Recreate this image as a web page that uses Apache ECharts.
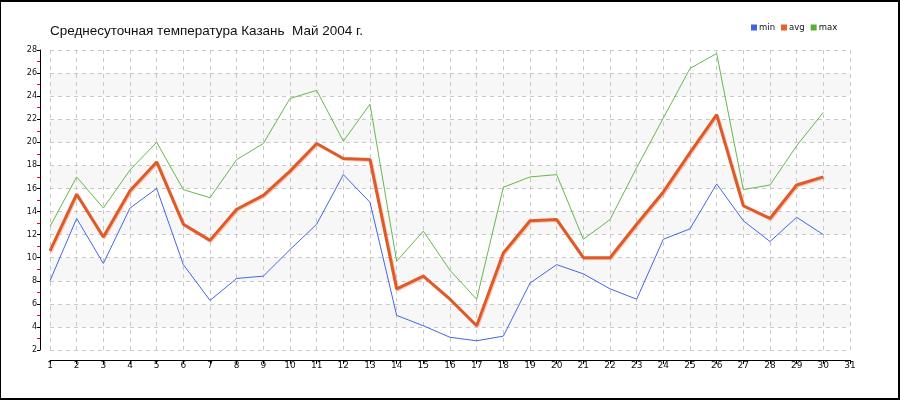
<!DOCTYPE html>
<html>
<head>
<meta charset="utf-8">
<script src="https://cdn.jsdelivr.net/npm/echarts@6/dist/echarts.min.js"></script>
<style>
html,body{margin:0;padding:0;background:#fff;}
#frame{position:absolute;left:0;top:0;width:900px;height:400px;box-sizing:border-box;border-style:solid;border-color:#000;border-width:2px 2px 2px 1px;}
#chart{position:absolute;left:0;top:0;width:900px;height:400px;}
</style>
</head>
<body>
<div id="chart"></div>
<div id="frame"></div>
<script>
const days = [1,2,3,4,5,6,7,8,9,10,11,12,13,14,15,16,17,18,19,20,21,22,23,24,25,26,27,28,29,30];
const minTemp = [8.0,13.4,9.5,14.3,16.0,9.4,6.3,8.2,8.4,10.7,12.9,17.2,14.8,5.0,4.1,3.1,2.8,3.2,7.8,9.4,8.6,7.3,6.4,11.6,12.5,16.4,13.2,11.4,13.5,12.0];
const avgTemp = [10.6,15.5,11.8,15.8,18.3,12.9,11.5,14.2,15.4,17.5,19.9,18.6,18.5,7.3,8.4,6.4,4.1,10.4,13.2,13.3,10.0,10.0,12.9,15.7,19.1,22.4,14.5,13.4,16.3,17.0];
const maxTemp = [12.7,17.0,14.3,17.6,20.0,15.9,15.2,18.5,19.9,23.8,24.5,20.1,23.3,9.7,12.3,8.9,6.4,16.1,17.0,17.2,11.6,13.3,17.8,22.1,26.4,27.7,15.9,16.3,19.7,22.6];
const seriesNames = ['min','avg','max'];
const titleText = 'Среднесуточная температура Казань  Май 2004 г.';

const pairs = arr => days.map((d,i)=>[d,arr[i]]);
const chart = echarts.init(document.getElementById('chart'), null, {renderer:'canvas'});
const axisFont = 'DejaVu Sans';
chart.setOption({
  animation:false,
  backgroundColor:'#fff',
  title:{text:titleText,left:45,top:19,textStyle:{fontFamily:'Liberation Sans',fontSize:13.5,fontWeight:'normal',color:'#111'}},
  legend:{data:seriesNames,left:746,top:18,icon:'rect',itemWidth:6,itemHeight:6,itemGap:6,
    textStyle:{fontFamily:axisFont,fontSize:8.5,color:'#111',padding:[0,0,0,-3]}},
  grid:{left:50,right:50,top:50,bottom:50,containLabel:false},
  xAxis:{type:'value',min:1,max:31,interval:1,offset:10,
    axisLine:{show:true,lineStyle:{color:'#000',width:1}},
    axisTick:{show:true,length:4,lineStyle:{color:'#000'}},
    axisLabel:{margin:1,fontFamily:axisFont,fontSize:9,color:'#111'},
    splitLine:{show:true,lineStyle:{color:'#c8c8c8',type:[4,4],width:1}}},
  yAxis:{type:'value',min:2,max:28,interval:2,offset:10,
    axisLine:{show:true,lineStyle:{color:'#000',width:1}},
    axisTick:{show:true,length:3,lineStyle:{color:'#000'}},
    minorTick:{show:true,splitNumber:2,length:3,lineStyle:{color:'#ff0000'}},
    axisLabel:{margin:3,fontFamily:axisFont,fontSize:8,color:'#111'},
    splitLine:{show:true,lineStyle:{color:'#c8c8c8',type:[4,4],width:1}},
    splitArea:{show:true,areaStyle:{color:['#ffffff','#f7f7f7']}}},
  series:[
    {name:'min',type:'line',data:pairs(minTemp),showSymbol:false,symbol:'none',color:'#3f62e6',lineStyle:{width:1,color:'#4466e6'}},
    {name:'avg',type:'line',data:pairs(avgTemp),showSymbol:false,symbol:'none',color:'#e8602a',lineStyle:{width:3,color:'#e05a28',shadowColor:'rgba(240,150,120,0.5)',shadowOffsetX:1,shadowOffsetY:1,shadowBlur:0}},
    {name:'max',type:'line',data:pairs(maxTemp),showSymbol:false,symbol:'none',color:'#55b033',lineStyle:{width:1,color:'#66b84a'}}
  ]
});
</script>
</body>
</html>
